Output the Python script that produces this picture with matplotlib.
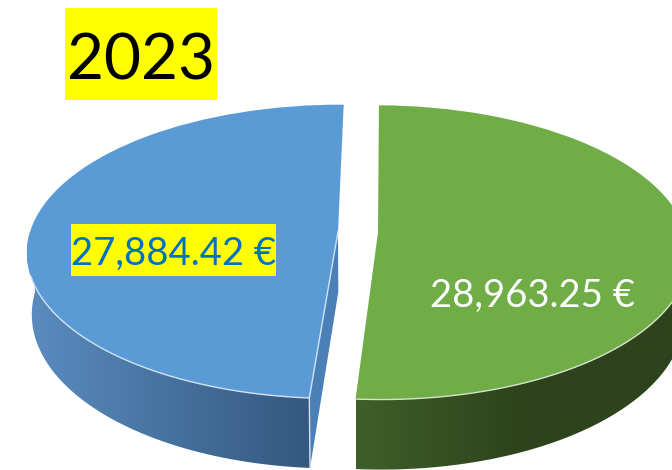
import matplotlib
matplotlib.use('Agg')
import matplotlib.pyplot as plt
import matplotlib.transforms as mtransforms
from matplotlib.colors import LinearSegmentedColormap
from matplotlib.patches import Polygon, Rectangle
import numpy as np

year = '2023'
amounts = [28963.25, 27884.42]
top_colors = ['#70ad47', '#5b9bd5']
rim_colors = ['#d5e2cc', '#d3e2f2']
wall_colors = [['#3f5f2a', '#2c431c', '#2c431c'], ['#5b8cc0', '#46729f', '#345880']]
text_colors = ['white', '#0070c0']
text_pos = [(533, 296), (174, 254)]

cx, y0 = 358, 232   # where the middle of the disc lands on the picture
rx = 308
ry = 144.3
depth = 60.5
persp = 0.136


class Tilt(mtransforms.Transform):
    """Perspective view of the pie disc, h=0 is the top face and h=1 the bottom."""
    input_dims = 2
    output_dims = 2

    def __init__(self, h=0):
        super().__init__()
        self.h = h

    def transform_non_affine(self, xy):
        xy = np.asarray(xy, dtype=float)
        w = 1 + persp * xy[:, 1]
        px = cx + rx * xy[:, 0] * (1 - 0.015 * self.h) / w
        py = y0 - ry * xy[:, 1] / w + depth * self.h / w
        return np.column_stack([px, py])


fig = plt.figure(figsize=(6.72, 4.70), dpi=100)
ax = fig.add_axes([0, 0, 1, 1])

wedges, _ = ax.pie(amounts, explode=[0.065, 0.065], startangle=89.3, counterclock=False,
                   colors=top_colors, radius=1)

for w in wedges:
    w.set_transform(Tilt(0) + ax.transData)
    w.set_edgecolor('none')
    w.set_zorder(3)

# side walls, only the front part of each wedge shows
for w, cols, rim in zip(wedges, wall_colors, rim_colors):
    deg = np.linspace(max(w.theta1, -180), min(w.theta2, 0), 200)
    t = np.radians(deg)
    disc = np.column_stack([w.center[0] + np.cos(t), w.center[1] + np.sin(t)])
    top = Tilt(0).transform(disc)
    bot = Tilt(1).transform(disc)
    poly = np.vstack([top, bot[::-1]])
    patch = Polygon(poly, closed=True, fc='none', ec='none', transform=ax.transData)
    ax.add_patch(patch)
    cmap = LinearSegmentedColormap.from_list('wall', cols)
    im = ax.imshow(np.linspace(0, 1, 256)[None, :], cmap=cmap, aspect='auto', zorder=1,
                   extent=(poly[:, 0].min(), poly[:, 0].max(), poly[:, 1].max(), poly[:, 1].min()))
    im.set_clip_path(patch)
    # the light rim only shows where the wall is below it
    keep = deg > -163
    ax.plot(top[keep, 0], top[keep, 1], color=rim, lw=1, zorder=4)

# cut face of the blue wedge, and the white edges at its corner
blue = wedges[1]
t = np.radians(blue.theta2)
corner = np.array([[blue.center[0] + np.cos(t), blue.center[1] + np.sin(t)]])
apex = np.array([blue.center])
face = np.vstack([Tilt(0).transform(apex), Tilt(0).transform(corner),
                  Tilt(1).transform(corner), Tilt(1).transform(apex)])
ax.add_patch(Polygon(face, closed=True, fc='#4a80b6', ec='none', zorder=2))
ax.plot(face[:3, 0], face[:3, 1], color=rim_colors[1], lw=1, zorder=4)

for val, col, pos in zip(amounts, text_colors, text_pos):
    ax.text(pos[0], pos[1], f'{val:,.2f} €', color=col, fontsize=27.5, family='Lato',
            ha='center', va='center', zorder=6)

# yellow highlights behind the two texts
ax.add_patch(Rectangle((71, 224), 205, 52, fc='yellow', ec='none', zorder=5))
ax.add_patch(Rectangle((65, 8), 152, 92, fc='yellow', ec='none', zorder=5))
ax.text(141, 61, year, color='black', fontsize=46, family='Lato', ha='center', va='center', zorder=6)

ax.set_aspect('auto')
ax.set_xlim(0, 672)
ax.set_ylim(470, 0)
ax.axis('off')

plt.savefig('out.png', dpi=100)
